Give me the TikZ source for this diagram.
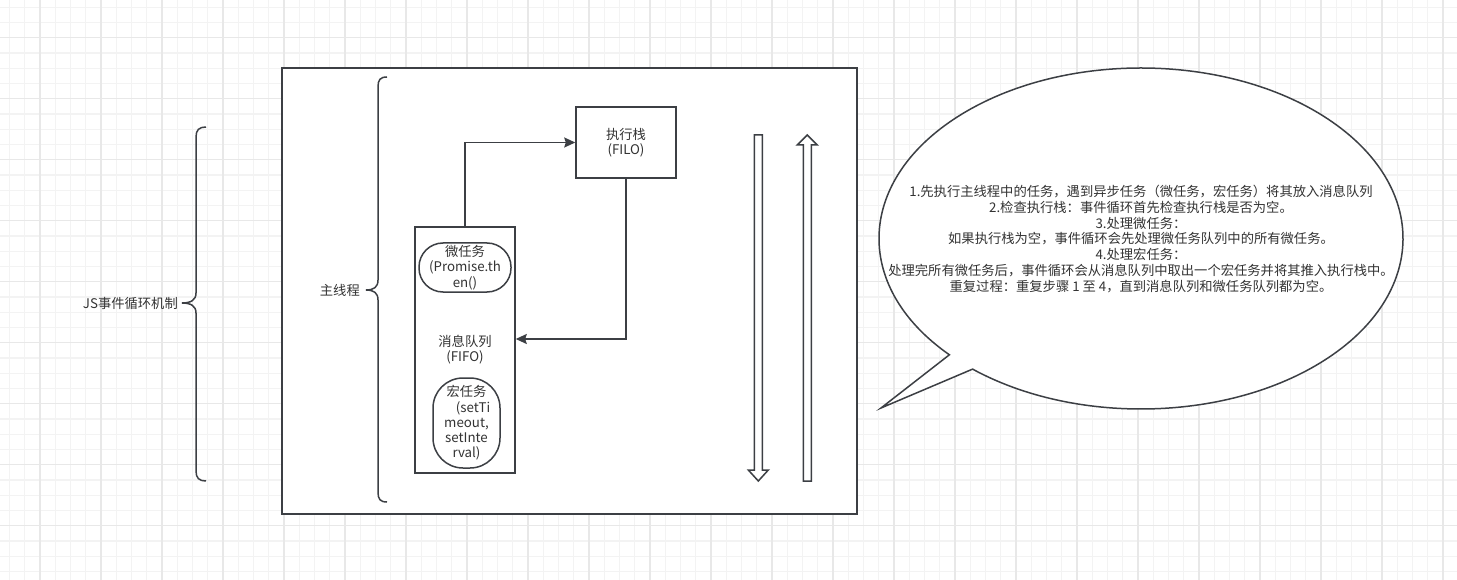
\documentclass[tikz,border=0pt]{standalone}
\usepackage{fontspec}
\setmainfont{Noto Sans CJK SC}
\usetikzlibrary{arrows.meta,calc}
\definecolor{ln}{RGB}{60,63,68}
\definecolor{tx}{RGB}{51,51,51}
\definecolor{gmin}{RGB}{243,243,243}
\definecolor{gmaj}{RGB}{232,232,232}
\newcommand\dfont{\fontsize{13.3}{15.3}\selectfont}
\newcommand\bfontx{\fontsize{13.3}{15.8}\selectfont}
\tikzset{
  gridminor/.style={draw=gmin, line width=1.3pt},
  gridmajor/.style={draw=gmaj, line width=1.3pt},
  shapeline/.style={draw=ln, line width=1.5pt},
  box/.style={shapeline, fill=white, inner sep=0pt, text=tx, font=\dfont, align=center},
  lbl/.style={text=tx, font=\dfont, inner sep=0pt, align=center},
  conn/.style={draw=ln, line width=1.5pt, -{Stealth[length=11pt,width=10pt,inset=1.5pt]}},
}
\begin{document}
\begin{tikzpicture}[x=1pt,y=-1pt]
\useasboundingbox (0,0) rectangle (1457,580);
\fill[white] (0,0) rectangle (1457,580);
% grid
\foreach \k in {0,...,94} {\draw[gridminor] ({9.5+15.25*\k},0) -- ({9.5+15.25*\k},580);}
\foreach \k in {0,...,37} {\draw[gridminor] (0,{7.2+15.25*\k}) -- (1457,{7.2+15.25*\k});}
\foreach \k in {0,...,23} {\draw[gridmajor] ({40+61*\k},0) -- ({40+61*\k},580);}
\foreach \k in {0,...,8} {\draw[gridmajor] (0,{37.7+61*\k}) -- (1457,{37.7+61*\k});}

% outer brace and label
\draw[shapeline] (206,127) .. controls (199,127) and (196,130) .. (196,137) -- (196,293)
  .. controls (196,300) and (191,303) .. (182,303)
  .. controls (191,303) and (196,306) .. (196,313) -- (196,471)
  .. controls (196,478) and (199,481) .. (206,481);
\node[lbl, anchor=east] (jslabel) at (178,303) {JS事件循环机制};

% main container
\node[box, minimum width=575pt, minimum height=446pt] (mainbox) at (569.5,291) {};

% inner brace and label
\draw[shapeline] (387,77) .. controls (380,77) and (378,80) .. (378,87) -- (378,280)
  .. controls (378,287) and (374,290) .. (366,290)
  .. controls (374,290) and (378,293) .. (378,300) -- (378,492)
  .. controls (378,499) and (380,502) .. (387,502);
\node[lbl, anchor=east] (mtlabel) at (360,290) {主线程};

% execution stack
\node[box, minimum width=100pt, minimum height=71pt] (exec) at (626,142.5) {执行栈\\(FILO)};

% message queue
\node[box, minimum width=100pt, minimum height=246pt] (queue) at (465,350) {消息队列\\(FIFO)};
\node[box, minimum width=92pt, minimum height=49pt, rounded corners=24pt] (micro) at (465,267.5) {微任务\\(Promise.th\\en()};
\node[box, minimum width=67pt, minimum height=90pt, rounded corners=30pt] (macro) at (466.5,423) {宏任务\\\hspace*{1em}(setTi\\meout,\\setInte\\rval)};

% connectors
\draw[conn] (queue.north) |- (exec.west);
\draw[conn] (exec.south) |- ([yshift=11pt]queue.east);

% block arrows
\draw[shapeline, fill=white, line join=miter] (754.3,135) -- (762.3,135) -- (762.3,470) -- (768.3,470) -- (758.3,481) -- (748.3,470) -- (754.3,470) -- cycle;
\draw[shapeline, fill=white, line join=miter] (803.3,481) -- (811.3,481) -- (811.3,145) -- (817.3,145) -- (807.3,135) -- (797.3,145) -- (803.3,145) -- cycle;

% speech bubble
\coordinate (bc) at (1141,238.5);
\coordinate (tip) at (881,408);
\draw[shapeline, fill=white, line join=miter] ([shift={(223:262pt and 170.5pt)}]bc) arc[start angle=223, end angle=-130, x radius=262pt, y radius=170.5pt] -- (tip) -- cycle;
\node[lbl, font=\bfontx] (btext) at (1141,239) {1.先执行主线程中的任务，遇到异步任务（微任务，宏任务）将其放入消息队列\\
2.检查执行栈：事件循环首先检查执行栈是否为空。\\
3.处理微任务：\\
如果执行栈为空，事件循环会先处理微任务队列中的所有微任务。\\
4.处理宏任务：\\
处理完所有微任务后，事件循环会从消息队列中取出一个宏任务并将其推入执行栈中。\\
重复过程：重复步骤 1 至 4，直到消息队列和微任务队列都为空。};
\end{tikzpicture}
\end{document}
